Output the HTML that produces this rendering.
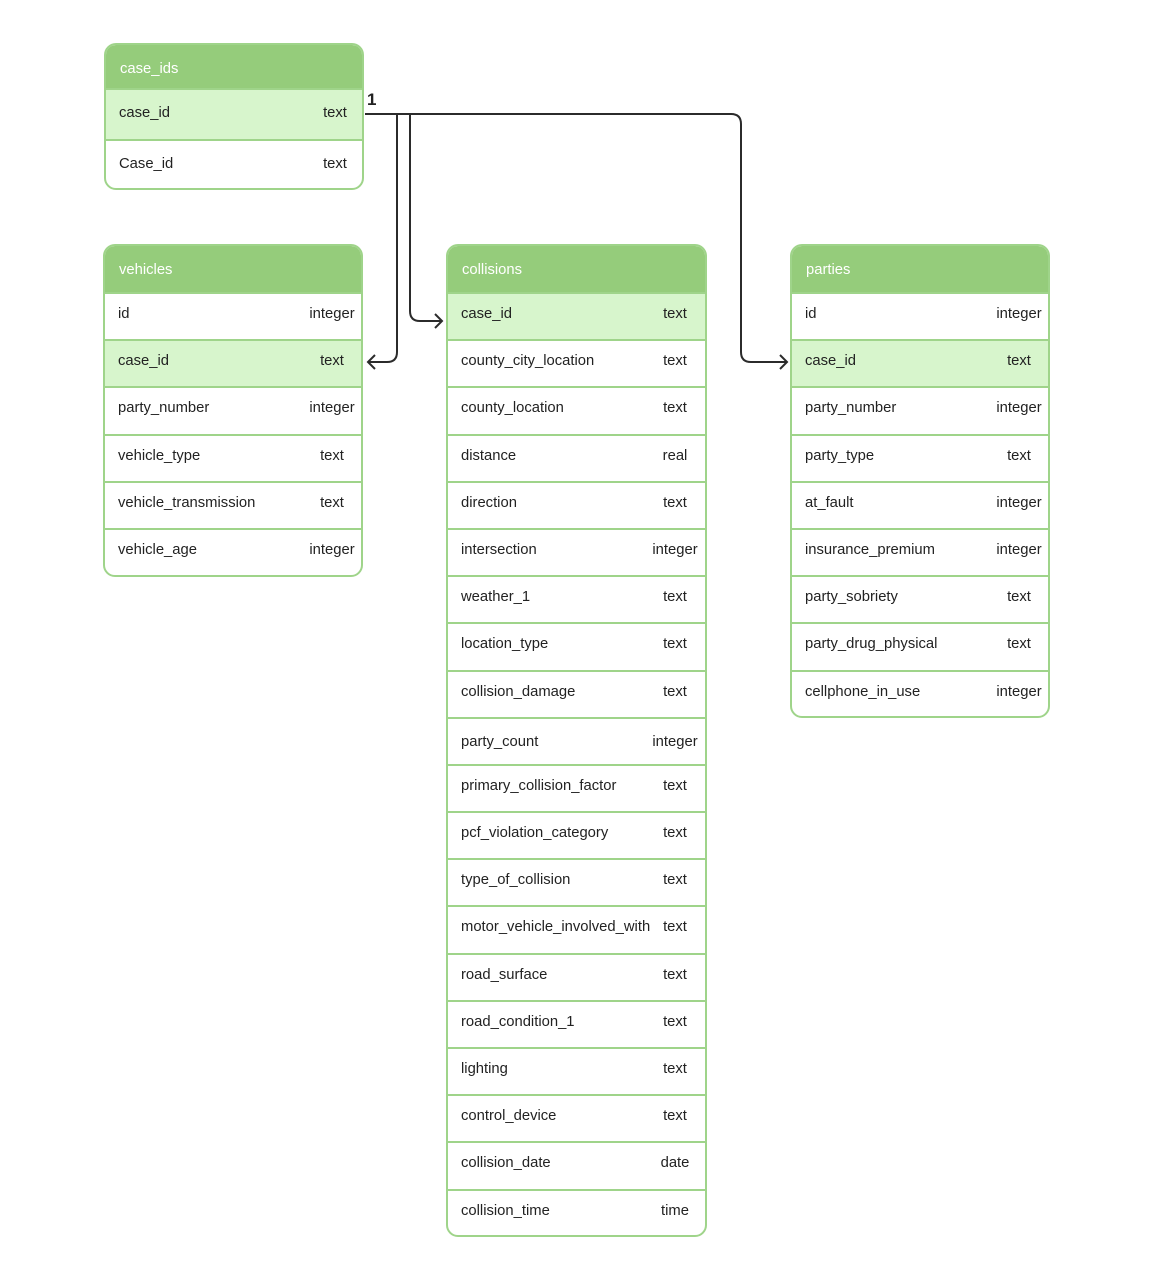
<!DOCTYPE html>
<html><head><meta charset="utf-8"><style>
body{margin:0;width:1154px;height:1280px;background:#fff;position:relative;font-family:"Liberation Sans",sans-serif;font-size:14.8px;color:#222;overflow:hidden}
.t{position:absolute;border:2px solid #9fd48a;border-radius:12px;overflow:hidden;box-sizing:border-box;background:#fff}
.h{background:#95cc7b;color:#fff;padding-left:14px;box-sizing:border-box}
.r{border-top:2px solid #9fd48a;box-sizing:border-box;position:relative;padding-left:13px;line-height:40px}
.r.k{background:#d7f5cc}
.r span{position:absolute;left:198px;width:58px;text-align:center}
</style></head><body>

<div class="t" style="left:104px;top:43px;width:260px;height:147px">
<div class="h" style="height:43px;line-height:48px">case_ids</div>
<div class="r k" style="height:51px;line-height:46px">case_id<span style="left:200px">text</span></div>
<div class="r" style="height:51px;line-height:46px">Case_id<span style="left:200px">text</span></div>
</div>

<div class="t" style="left:103px;top:244px;width:260px;height:333px">
<div class="h" style="height:46px;line-height:48px">vehicles</div>
<div class="r" style="height:47.2px">id<span>integer</span></div>
<div class="r k" style="height:47.2px">case_id<span>text</span></div>
<div class="r" style="height:47.2px">party_number<span>integer</span></div>
<div class="r" style="height:47.2px">vehicle_type<span>text</span></div>
<div class="r" style="height:47.2px">vehicle_transmission<span>text</span></div>
<div class="r" style="height:47.2px">vehicle_age<span>integer</span></div>
</div>

<div class="t" style="left:446px;top:244px;width:261px;height:993px">
<div class="h" style="height:46px;line-height:48px">collisions</div>
<div class="r k" style="height:47.2px">case_id<span>text</span></div>
<div class="r" style="height:47.2px">county_city_location<span>text</span></div>
<div class="r" style="height:47.2px">county_location<span>text</span></div>
<div class="r" style="height:47.2px">distance<span>real</span></div>
<div class="r" style="height:47.2px">direction<span>text</span></div>
<div class="r" style="height:47.2px">intersection<span>integer</span></div>
<div class="r" style="height:47.2px">weather_1<span>text</span></div>
<div class="r" style="height:47.2px">location_type<span>text</span></div>
<div class="r" style="height:47.2px">collision_damage<span>text</span></div>
<div class="r" style="height:47.2px;line-height:46px">party_count<span>integer</span></div>
<div class="r" style="height:47.2px">primary_collision_factor<span>text</span></div>
<div class="r" style="height:47.2px">pcf_violation_category<span>text</span></div>
<div class="r" style="height:47.2px">type_of_collision<span>text</span></div>
<div class="r" style="height:47.2px">motor_vehicle_involved_with<span>text</span></div>
<div class="r" style="height:47.2px">road_surface<span>text</span></div>
<div class="r" style="height:47.2px">road_condition_1<span>text</span></div>
<div class="r" style="height:47.2px">lighting<span>text</span></div>
<div class="r" style="height:47.2px">control_device<span>text</span></div>
<div class="r" style="height:47.2px">collision_date<span>date</span></div>
<div class="r" style="height:47.2px">collision_time<span>time</span></div>
</div>

<div class="t" style="left:790px;top:244px;width:260px;height:474px">
<div class="h" style="height:46px;line-height:48px">parties</div>
<div class="r" style="height:47.2px">id<span>integer</span></div>
<div class="r k" style="height:47.2px">case_id<span>text</span></div>
<div class="r" style="height:47.2px">party_number<span>integer</span></div>
<div class="r" style="height:47.2px">party_type<span>text</span></div>
<div class="r" style="height:47.2px">at_fault<span>integer</span></div>
<div class="r" style="height:47.2px">insurance_premium<span>integer</span></div>
<div class="r" style="height:47.2px">party_sobriety<span>text</span></div>
<div class="r" style="height:47.2px">party_drug_physical<span>text</span></div>
<div class="r" style="height:47.2px">cellphone_in_use<span>integer</span></div>
</div>

<div style="position:absolute;left:367px;top:90px;font-size:17px;font-weight:bold;color:#222">1</div>

<svg width="1154" height="1280" style="position:absolute;left:0;top:0" fill="none" stroke="#2b2b2b" stroke-width="2">
<path d="M365 114 H731 Q741 114 741 124 V352 Q741 362 751 362 H787"/>
<path d="M780 355 L787 362 L780 369"/>
<path d="M397 114 V352 Q397 362 387 362 H368"/>
<path d="M375 355 L368 362 L375 369"/>
<path d="M410 114 V311 Q410 321 420 321 H442"/>
<path d="M435 314 L442 321 L435 328"/>
</svg>
</body></html>
